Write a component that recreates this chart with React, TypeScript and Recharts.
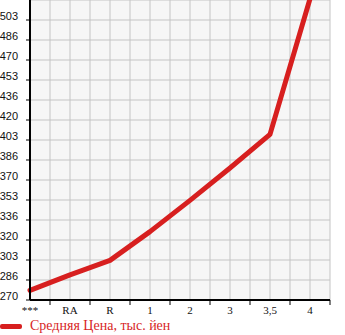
import { LineChart, Line, XAxis, YAxis, CartesianGrid, Legend } from "recharts"

const categories = ["***", "RA", "R", "1", "2", "3", "3,5", "4"]
const prices = [278, 291, 303, 327, 353, 380, 408, 521]
const xTicks = [0, 0.5, 1, 1.5, 2, 2.5, 3, 3.5, 4, 4.5, 5, 5.5, 6, 6.5, 7, 7.5]
const yTicks = [
  270, 286.67, 303.33, 320, 336.67, 353.33, 370, 386.67, 403.33, 420, 436.67,
  453.33, 470, 486.67, 503.33, 520,
]
const seriesName = "Средняя Цена, тыс. йен"

const data = categories.map((name, i) => ({ pos: i, name, price: prices[i] }))

const RED = "#d71f1f"

function XTick(props: any) {
  const { x, y, payload } = props
  const v = payload.value as number
  if (Number.isInteger(v)) {
    return (
      <text
        x={x}
        y={y + 6}
        textAnchor="middle"
        fontFamily="Liberation Serif"
        fontSize={11}
        fill="#111"
      >
        {categories[v]}
      </text>
    )
  }
  return <line x1={x} x2={x} y1={300} y2={305} stroke="#000" strokeWidth={1} />
}

function YTick(props: any) {
  const { y, payload, index } = props
  if (index === yTicks.length - 1) return <g />
  return (
    <g>
      <line x1={26} x2={30} y1={y} y2={y} stroke="#000" strokeWidth={1} />
      <text
        x={18}
        y={y}
        textAnchor="end"
        fontFamily="Liberation Sans"
        fontSize={11}
        fill="#111"
      >
        {Math.floor(payload.value)}
      </text>
    </g>
  )
}

function LegendBox() {
  return (
    <div style={{ display: "flex", alignItems: "center", height: 20, marginTop: 1 }}>
      <div style={{ width: 22, height: 5, background: RED, borderRadius: 2 }} />
      <span
        style={{
          marginLeft: 8,
          color: RED,
          fontFamily: "Liberation Serif",
          fontSize: 14,
          lineHeight: "16px",
        }}
      >
        {seriesName}
      </span>
    </div>
  )
}

export default function App() {
  return (
    <div style={{ position: "absolute", left: 0, top: 0 }}>
      <LineChart
        width={345}
        height={335}
        data={data}
        margin={{ top: 0, right: 15, left: 0, bottom: 0 }}
      >
        <CartesianGrid stroke="#c4c4c4" fill="#f6f6f6" strokeWidth={1} />
        <XAxis
          dataKey="pos"
          type="number"
          domain={[0, 7.5]}
          ticks={xTicks}
          interval={0}
          height={15}
          tickLine={false}
          axisLine={{ stroke: "#000", strokeWidth: 2 }}
          tick={<XTick />}
        />
        <YAxis
          type="number"
          domain={[270, 520]}
          ticks={yTicks}
          interval={0}
          allowDataOverflow
          width={30}
          tickLine={false}
          axisLine={{ stroke: "#000", strokeWidth: 2 }}
          tick={<YTick />}
        />
        <Legend verticalAlign="bottom" height={20} content={<LegendBox />} />
        <Line
          type="linear"
          dataKey="price"
          name={seriesName}
          stroke={RED}
          strokeWidth={5}
          strokeLinecap="round"
          strokeLinejoin="round"
          dot={false}
          isAnimationActive={false}
        />
      </LineChart>
    </div>
  )
}
